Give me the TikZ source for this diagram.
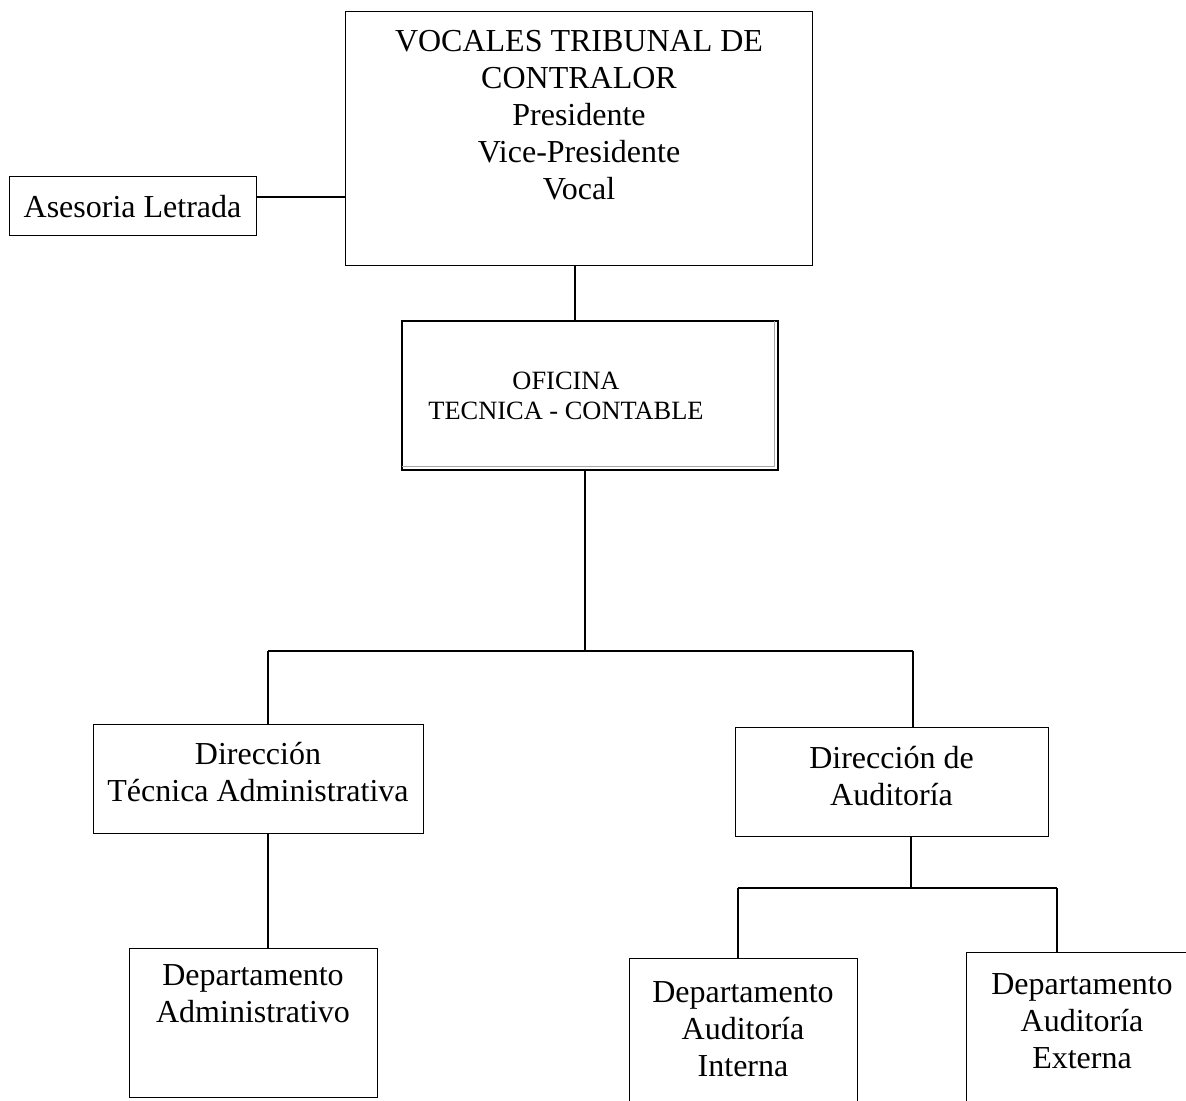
\documentclass[tikz,border=0pt]{standalone}
\usepackage{fontspec}
\setmainfont{Liberation Serif}
\begin{document}
\begin{tikzpicture}[x=0.5pt, y=-0.5pt,
		box/.style={draw, line width=0.5pt, inner sep=0pt},
		txt/.style={align=center, inner sep=0pt, font=\fontsize{16}{18.5}\selectfont},
		link/.style={line width=0.6pt}]
		\useasboundingbox (0,0) rectangle (1186,1100);
		\clip (0,0) rectangle (1186,1100);
		\node[box, minimum width=233.5pt, minimum height=127pt] (voc) at (578.5,138) {};
		\node[txt] (vocT) at (579,115.5) {VOCALES TRIBUNAL DE\\CONTRALOR\\Presidente\\Vice-Presidente\\Vocal};
		\node[box, minimum width=123.5pt, minimum height=29.5pt] (ases) at (132.5,205.5) {};
		\node[txt] (asesT) at (132.5,207) {Asesoria Letrada};
		\node[box, line width=1pt, minimum width=188pt, minimum height=74.5pt] (ofi) at (590,395.5) {};
		\draw[gray!70, line width=0.5pt] ([xshift=-2.5pt,yshift=-0.5pt]ofi.north east) -- ([xshift=-2.5pt,yshift=2.5pt]ofi.south east) -- ([xshift=0.5pt,yshift=2.5pt]ofi.south west);
		\node[txt, font=\fontsize{13.2}{15}\selectfont] (ofiT) at (566,396) {OFICINA\\TECNICA - CONTABLE};
		\node[box, minimum width=165pt, minimum height=54.5pt] (dta) at (258,778.5) {};
		\node[txt] (dtaT) at (258,772) {Dirección\\Técnica Administrativa};
		\node[box, minimum width=156.5pt, minimum height=54.5pt] (dau) at (891.5,781.5) {};
		\node[txt] (dauT) at (891.5,776) {Dirección de\\Auditoría};
		\node[box, minimum width=124pt, minimum height=74.5pt] (dadm) at (253,1022.5) {};
		\node[txt] (dadmT) at (253,994) {Departamento\\Administrativo};
		\node[box, minimum width=114pt, minimum height=81pt] (dai) at (743,1039) {};
		\node[txt] (daiT) at (743,1029) {Departamento\\Auditoría\\Interna};
		\node[box, minimum width=117pt, minimum height=84pt] (dae) at (1083,1036) {};
		\node[txt] (daeT) at (1082,1021) {Departamento\\Auditoría\\Externa};
		\coordinate (asesR) at ([yshift=4.25pt]ases.east);
		\draw[link] (asesR) -- (asesR -| voc.west);
		\coordinate (vocS) at (575,265);
		\draw[link] (vocS) -- (vocS |- ofi.north);
		\coordinate (ofiS) at (585,470);
		\coordinate (bus) at (585,651);
		\coordinate (busL) at (268,651);
		\coordinate (busR) at (913,651);
		\draw[link] (ofiS) -- (bus);
		\draw[link] (busL) -- (busR);
		\draw[link] (busL) -- (busL |- dta.north);
		\draw[link] (busR) -- (busR |- dau.north);
		\draw[link] (busL |- dta.south) -- (busL |- dadm.north);
		\coordinate (bus2) at (911,888);
		\coordinate (bus2L) at (738,888);
		\coordinate (bus2R) at (1057,888);
		\draw[link] (bus2 |- dau.south) -- (bus2);
		\draw[link] (bus2L) -- (bus2R);
		\draw[link] (bus2L) -- (bus2L |- dai.north);
		\draw[link] (bus2R) -- (bus2R |- dae.north);
	\end{tikzpicture}
\end{document}
